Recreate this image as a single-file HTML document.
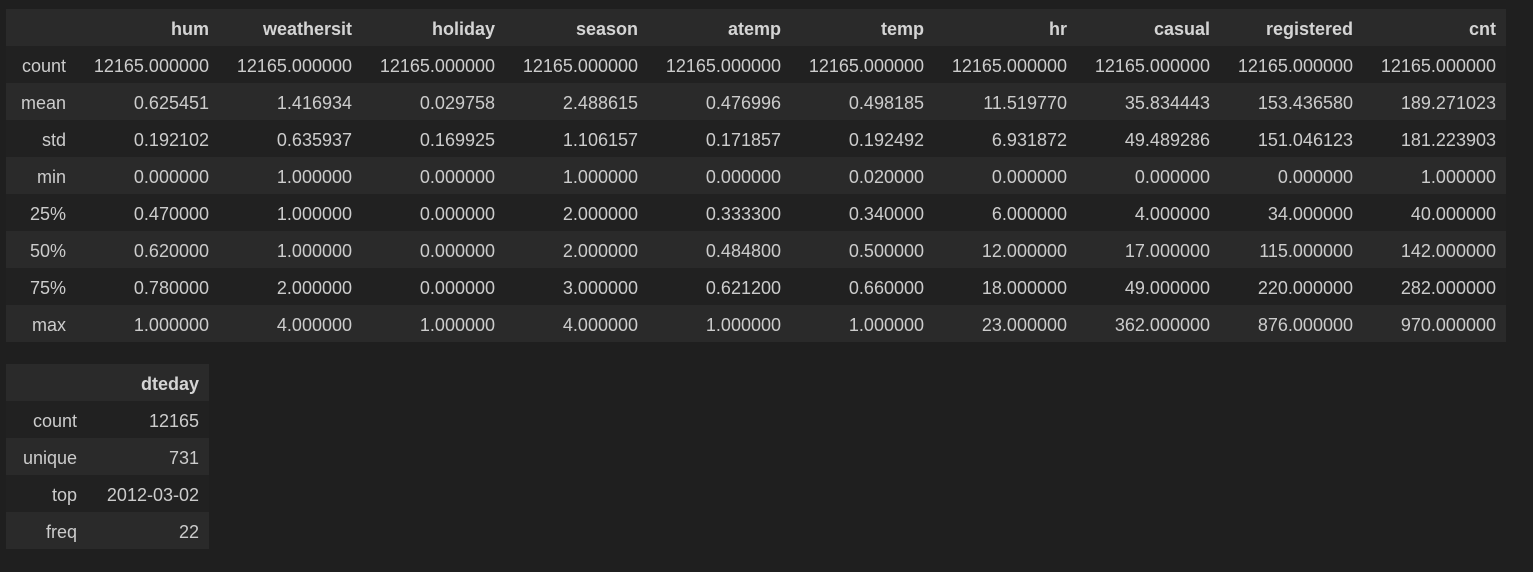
<!DOCTYPE html>
<html><head><meta charset="utf-8"><style>
html,body{margin:0;padding:0;background:#1f1f1f;width:1533px;height:572px;overflow:hidden}
table{position:absolute;border-collapse:collapse;font-family:"Liberation Sans",sans-serif;font-size:18px;color:#cccccc;table-layout:fixed}
td,th{height:37px;padding:4px 10px 0 0;text-align:right;white-space:nowrap;box-sizing:border-box}
th{font-weight:bold;color:#d4d4d4}
tr.h,tr.a{background:#2a2a2a}
tr.b{background:#212121}
</style></head><body>
<table id="t1" style="left:6px;top:9px;width:1500px"></table>
<table id="t2" style="left:6px;top:364px;width:203px"></table>
<script>
const cols=["hum","weathersit","holiday","season","atemp","temp","hr","casual","registered","cnt"];
const rowsIdx=["count","mean","std","min","25%","50%","75%","max"];
const vals=[
["12165.000000","12165.000000","12165.000000","12165.000000","12165.000000","12165.000000","12165.000000","12165.000000","12165.000000","12165.000000"],
["0.625451","1.416934","0.029758","2.488615","0.476996","0.498185","11.519770","35.834443","153.436580","189.271023"],
["0.192102","0.635937","0.169925","1.106157","0.171857","0.192492","6.931872","49.489286","151.046123","181.223903"],
["0.000000","1.000000","0.000000","1.000000","0.000000","0.020000","0.000000","0.000000","0.000000","1.000000"],
["0.470000","1.000000","0.000000","2.000000","0.333300","0.340000","6.000000","4.000000","34.000000","40.000000"],
["0.620000","1.000000","0.000000","2.000000","0.484800","0.500000","12.000000","17.000000","115.000000","142.000000"],
["0.780000","2.000000","0.000000","3.000000","0.621200","0.660000","18.000000","49.000000","220.000000","282.000000"],
["1.000000","4.000000","1.000000","4.000000","1.000000","1.000000","23.000000","362.000000","876.000000","970.000000"]];
const cols2=["dteday"];
const rowsIdx2=["count","unique","top","freq"];
const vals2=[["12165"],["731"],["2012-03-02"],["22"]];
function build(t,c,ri,v,w0,w){
  let h='<colgroup><col style="width:'+w0+'px">'+c.map(()=>'<col style="width:'+w+'px">').join('')+'</colgroup>';
  h+='<tr class="h"><th></th>'+c.map(x=>'<th>'+x+'</th>').join('')+'</tr>';
  ri.forEach((r,i)=>{h+='<tr class="'+(i%2?'a':'b')+'"><td>'+r+'</td>'+v[i].map(x=>'<td>'+x+'</td>').join('')+'</tr>';});
  t.innerHTML=h;
}
build(document.getElementById('t1'),cols,rowsIdx,vals,70,143);
build(document.getElementById('t2'),cols2,rowsIdx2,vals2,81,122);
</script>
</body></html>
